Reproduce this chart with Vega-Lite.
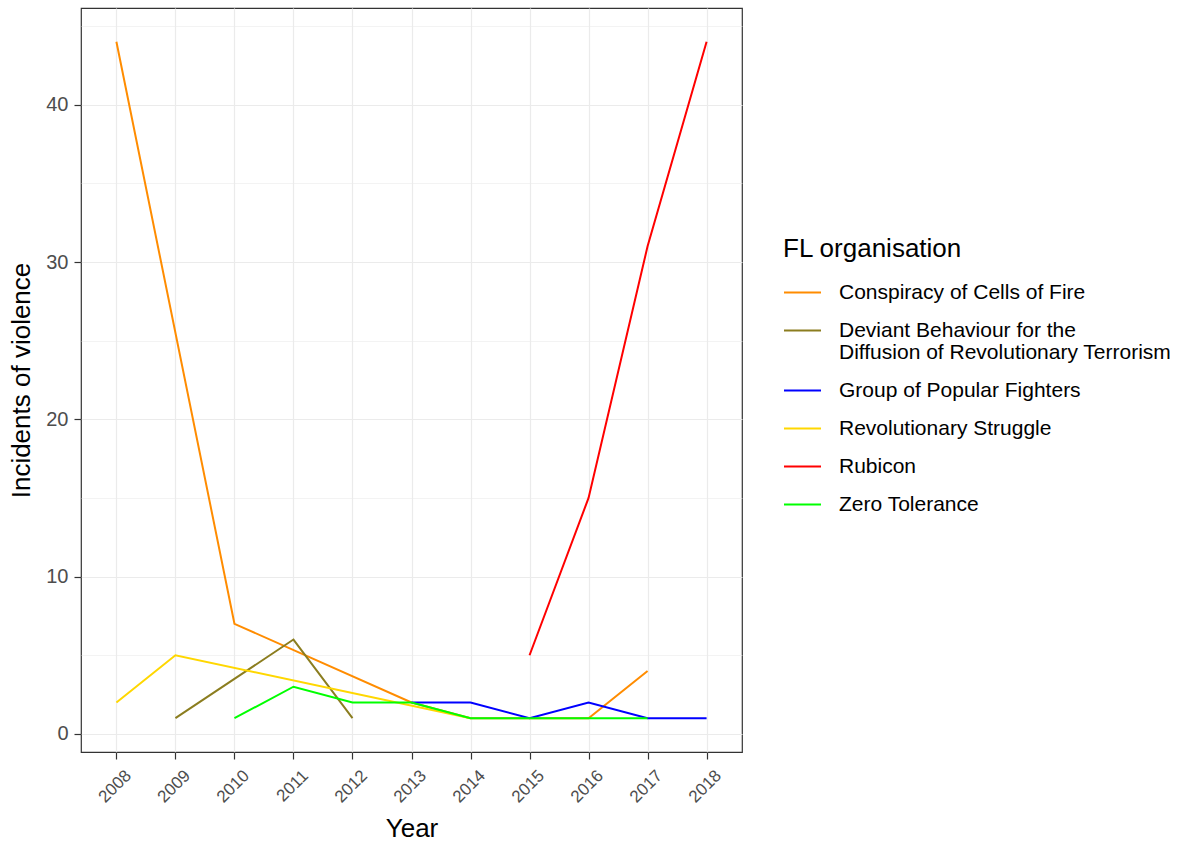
{
  "$schema": "https://vega.github.io/schema/vega-lite/v6.json",
  "autosize": {"type": "none"},
  "padding": {"left": 81, "top": 8, "right": 442, "bottom": 91},
  "width": 661,
  "height": 744,
  "background": "white",
  "data": {"values": [
    {"Year": 2008, "Incidents": 44, "Organisation": "Conspiracy of Cells of Fire"},
    {"Year": 2010, "Incidents": 7, "Organisation": "Conspiracy of Cells of Fire"},
    {"Year": 2013, "Incidents": 2, "Organisation": "Conspiracy of Cells of Fire"},
    {"Year": 2014, "Incidents": 1, "Organisation": "Conspiracy of Cells of Fire"},
    {"Year": 2015, "Incidents": 1, "Organisation": "Conspiracy of Cells of Fire"},
    {"Year": 2016, "Incidents": 1, "Organisation": "Conspiracy of Cells of Fire"},
    {"Year": 2017, "Incidents": 4, "Organisation": "Conspiracy of Cells of Fire"},
    {"Year": 2009, "Incidents": 1, "Organisation": "Deviant Behaviour for the Diffusion of Revolutionary Terrorism"},
    {"Year": 2011, "Incidents": 6, "Organisation": "Deviant Behaviour for the Diffusion of Revolutionary Terrorism"},
    {"Year": 2012, "Incidents": 1, "Organisation": "Deviant Behaviour for the Diffusion of Revolutionary Terrorism"},
    {"Year": 2013, "Incidents": 2, "Organisation": "Group of Popular Fighters"},
    {"Year": 2014, "Incidents": 2, "Organisation": "Group of Popular Fighters"},
    {"Year": 2015, "Incidents": 1, "Organisation": "Group of Popular Fighters"},
    {"Year": 2016, "Incidents": 2, "Organisation": "Group of Popular Fighters"},
    {"Year": 2017, "Incidents": 1, "Organisation": "Group of Popular Fighters"},
    {"Year": 2018, "Incidents": 1, "Organisation": "Group of Popular Fighters"},
    {"Year": 2008, "Incidents": 2, "Organisation": "Revolutionary Struggle"},
    {"Year": 2009, "Incidents": 5, "Organisation": "Revolutionary Struggle"},
    {"Year": 2014, "Incidents": 1, "Organisation": "Revolutionary Struggle"},
    {"Year": 2015, "Incidents": 5, "Organisation": "Rubicon"},
    {"Year": 2016, "Incidents": 15, "Organisation": "Rubicon"},
    {"Year": 2017, "Incidents": 31, "Organisation": "Rubicon"},
    {"Year": 2018, "Incidents": 44, "Organisation": "Rubicon"},
    {"Year": 2010, "Incidents": 1, "Organisation": "Zero Tolerance"},
    {"Year": 2011, "Incidents": 3, "Organisation": "Zero Tolerance"},
    {"Year": 2012, "Incidents": 2, "Organisation": "Zero Tolerance"},
    {"Year": 2013, "Incidents": 2, "Organisation": "Zero Tolerance"},
    {"Year": 2014, "Incidents": 1, "Organisation": "Zero Tolerance"},
    {"Year": 2015, "Incidents": 1, "Organisation": "Zero Tolerance"},
    {"Year": 2016, "Incidents": 1, "Organisation": "Zero Tolerance"},
    {"Year": 2017, "Incidents": 1, "Organisation": "Zero Tolerance"}
  ]},
  "mark": {"type": "line", "strokeWidth": 2},
  "encoding": {
    "x": {
      "field": "Year", "type": "ordinal",
      "scale": {"domain": [2008, 2009, 2010, 2011, 2012, 2013, 2014, 2015, 2016, 2017, 2018], "type": "point", "padding": 0.6},
      "axis": {
        "labelAngle": -45, "labelFontSize": 17, "labelColor": "#4D4D4D",
        "labelFont": "Liberation Sans", "titleFont": "Liberation Sans",
        "title": "Year", "titleFontSize": 26, "titleFontWeight": "normal", "titleColor": "#000000",
        "titlePadding": 10, "tickColor": "#333333", "tickSize": 7, "tickWidth": 1.2, "domain": false,
        "grid": true, "gridColor": "#EBEBEB", "gridWidth": 1.2, "labelPadding": 8, "labelOffset": 6
      }
    },
    "y": {
      "field": "Incidents", "type": "quantitative",
      "scale": {"domain": [-1.15, 46.15], "nice": false, "zero": false},
      "axis": {
        "values": [0, 5, 10, 15, 20, 25, 30, 35, 40, 45],
        "labelExpr": "datum.value % 10 === 0 ? datum.label : ''",
        "tickOpacity": {"condition": {"test": "datum.value % 10 === 0", "value": 1}, "value": 0},
        "gridWidth": {"condition": {"test": "datum.value % 10 === 0", "value": 1.2}, "value": 0.6},
        "labelFontSize": 20, "labelColor": "#4D4D4D", "labelFont": "Liberation Sans",
        "title": "Incidents of violence", "titleFont": "Liberation Sans", "titleFontSize": 26,
        "titleFontWeight": "normal", "titleColor": "#000000", "titlePadding": 11,
        "tickColor": "#333333", "tickSize": 7, "tickWidth": 1.2, "domain": false, "gridColor": "#EBEBEB", "labelPadding": 6
      }
    },
    "color": {
      "field": "Organisation", "type": "nominal",
      "scale": {
        "domain": ["Conspiracy of Cells of Fire", "Deviant Behaviour for the Diffusion of Revolutionary Terrorism", "Group of Popular Fighters", "Revolutionary Struggle", "Rubicon", "Zero Tolerance"],
        "range": ["#FF8C00", "#8B7D1F", "#0000FF", "#FFD700", "#FF0000", "#00FF00"]
      },
      "legend": {
        "title": "FL organisation", "orient": "none", "legendX": 702, "legendY": 228,
        "titleFont": "Liberation Sans", "titleFontSize": 26, "titleFontWeight": "normal", "titleColor": "#000000",
        "titlePadding": 11,
        "labelFont": "Liberation Sans", "labelFontSize": 21, "labelColor": "#000000", "labelLimit": 500,
        "labelExpr": "datum.label == 'Deviant Behaviour for the Diffusion of Revolutionary Terrorism' ? ['Deviant Behaviour for the', 'Diffusion of Revolutionary Terrorism'] : datum.label",
        "symbolType": "stroke", "symbolSize": 1369, "symbolStrokeWidth": 2, "labelOffset": 17,
        "rowPadding": 8,
        "encode": {"labels": {"update": {"lineHeight": {"value": 22}}}}
      }
    }
  },
  "config": {
    "view": {"stroke": "#333333", "strokeWidth": 1.2}
  }
}
